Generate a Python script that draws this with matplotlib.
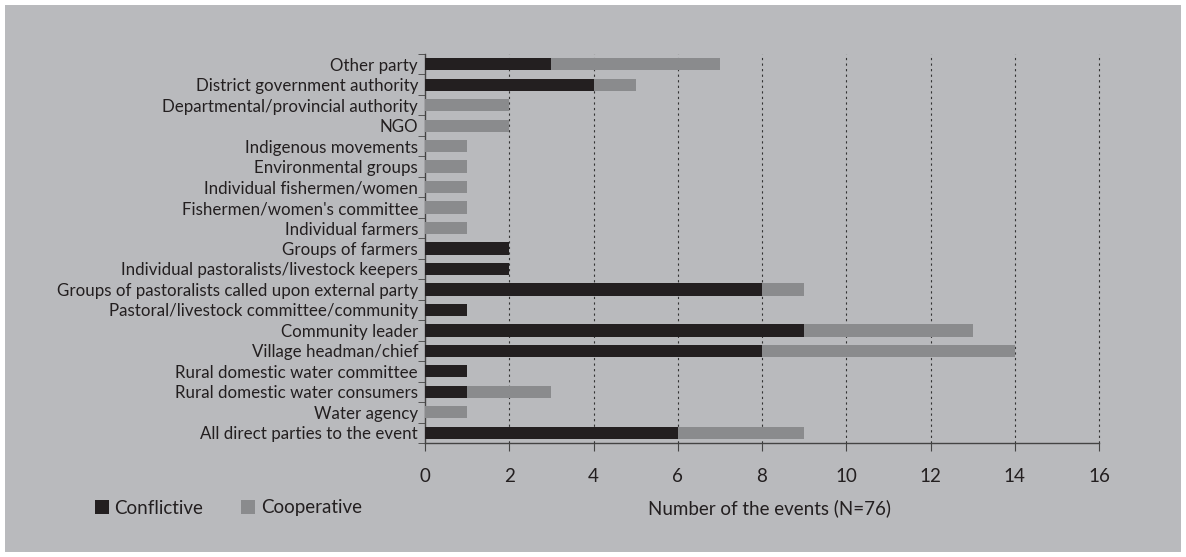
import numpy as np
import matplotlib
matplotlib.use("Agg")
import matplotlib.pyplot as plt
from matplotlib.patches import Patch

plt.rcParams['font.family'] = ['Lato', 'DejaVu Sans']

# categories from top to bottom as in the chart
categories = [
    "Other party",
    "District government authority",
    "Departmental/provincial authority",
    "NGO",
    "Indigenous movements",
    "Environmental groups",
    "Individual fishermen/women",
    "Fishermen/women's committee",
    "Individual farmers",
    "Groups of farmers",
    "Individual pastoralists/livestock keepers",
    "Groups of pastoralists called upon external party",
    "Pastoral/livestock committee/community",
    "Community leader",
    "Village headman/chief",
    "Rural domestic water committee",
    "Rural domestic water consumers",
    "Water agency",
    "All direct parties to the event",
]
conflictive = [3, 4, 0, 0, 0, 0, 0, 0, 0, 2, 2, 8, 1, 9, 8, 1, 1, 0, 6]
cooperative = [4, 1, 2, 2, 1, 1, 1, 1, 1, 0, 0, 1, 0, 4, 6, 0, 2, 1, 3]
xticks = [0, 2, 4, 6, 8, 10, 12, 14, 16]

bg = '#b9babd'
dark = '#231f20'
light = '#8a8b8d'

fig = plt.figure(figsize=(11.86, 5.57), dpi=100, facecolor='white')
fig.patches.append(plt.Rectangle((5/1186, 5/557), 1176/1186, 547/557,
                                 transform=fig.transFigure, facecolor=bg,
                                 edgecolor='none', zorder=-10))
ax = fig.add_axes([425/1186, 1 - 443/557, 674/1186, 389/557])
ax.set_facecolor('none')

y = np.arange(len(categories))[::-1]
ax.barh(y, conflictive, height=0.6, color=dark, zorder=3)
ax.barh(y, cooperative, left=conflictive, height=0.6, color=light, zorder=3)

ax.set_xlim(0, 16)
ax.set_ylim(-0.5, len(categories) - 0.5)
ax.set_xticks(xticks)
ax.set_xticklabels([str(t) for t in xticks], fontsize=13.5, color=dark)
ax.set_yticks(y)
ax.set_yticklabels(categories, fontsize=12.2, color=dark)
ax.tick_params(axis='y', which='major', length=0, pad=5)
ax.set_yticks(np.arange(-0.5, len(categories), 1), minor=True)
ax.tick_params(axis='y', which='minor', length=5, color='#444444')
ax.tick_params(axis='x', length=6, color='#444444', pad=12)

for t in xticks[1:]:
    ax.axvline(t, color='#333333', linestyle=(0, (2, 3)), linewidth=0.8,
               zorder=1, clip_on=False)

for s in ['top', 'right']:
    ax.spines[s].set_visible(False)
for s in ['left', 'bottom']:
    ax.spines[s].set_color('#444444')
    ax.spines[s].set_linewidth(1.0)

fig.text(770/1186, 1 - 508/557, "Number of the events (N=76)", ha='center',
         va='center', fontsize=13.5, color=dark)

handles = [Patch(facecolor=dark, label='Conflictive'),
           Patch(facecolor=light, label='Cooperative')]
fig.legend(handles=handles, loc='center left', bbox_to_anchor=(78/1186, 1 - 508/557),
           ncol=2, frameon=False, fontsize=13.5, handlelength=0.75, handleheight=0.8,
           handletextpad=0.3, columnspacing=2.0, labelcolor=dark)

fig.savefig('out.png', dpi=100, facecolor='white')
